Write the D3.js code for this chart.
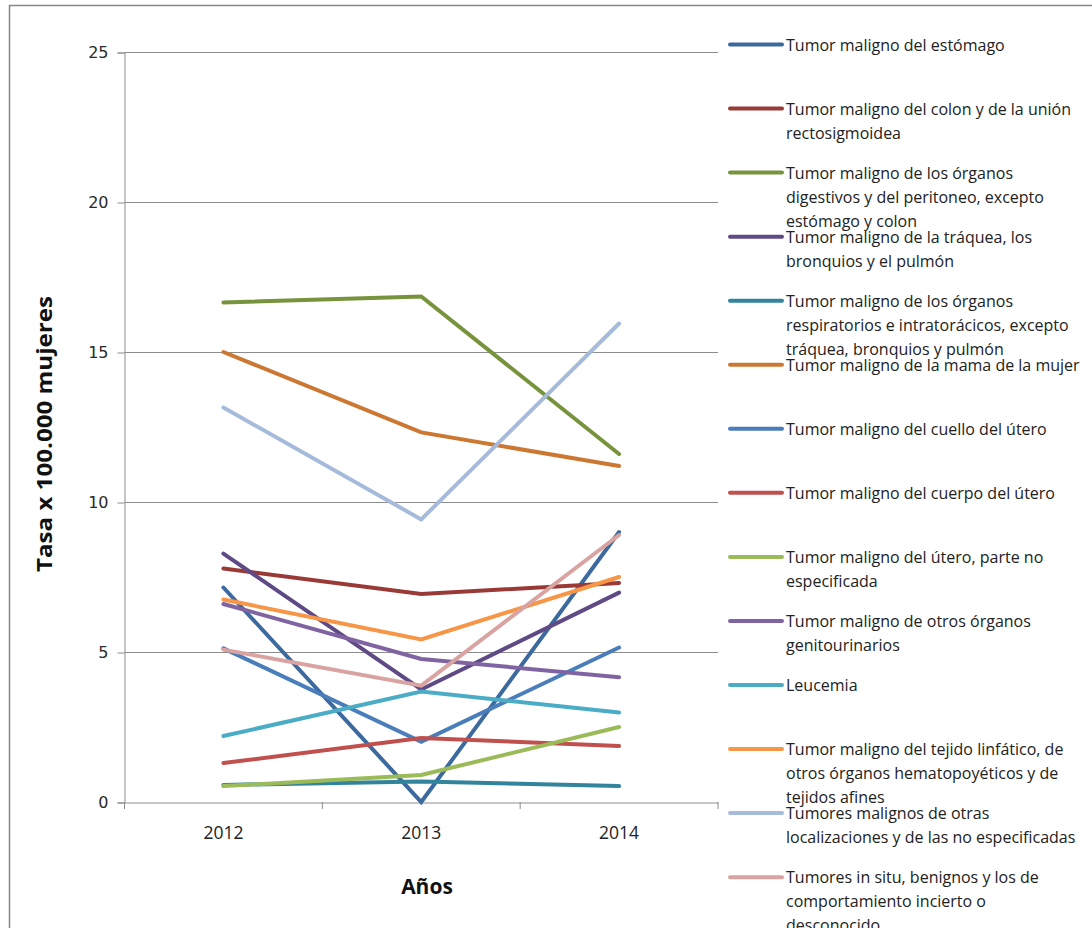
<!DOCTYPE html>
<html>
<head>
<meta charset="utf-8">
<script src="https://cdn.jsdelivr.net/npm/d3@7"></script>
<style>
  html, body { margin: 0; padding: 0; background: #fff; }
  svg { display: block; }
</style>
</head>
<body>
<svg id="chart" width="1092" height="928"></svg>
<script>
const years = ["2012", "2013", "2014"];
const yTicks = [0, 5, 10, 15, 20, 25];
const seriesNames = [
  "Tumor maligno del estómago",
  "Tumor maligno del colon y de la unión rectosigmoidea",
  "Tumor maligno de los órganos digestivos y del peritoneo, excepto estómago y colon",
  "Tumor maligno de la tráquea, los bronquios y el pulmón",
  "Tumor maligno de los órganos respiratorios e intratorácicos, excepto tráquea, bronquios y pulmón",
  "Tumor maligno de la mama de la mujer",
  "Tumor maligno del cuello del útero",
  "Tumor maligno del cuerpo del útero",
  "Tumor maligno del útero, parte no especificada",
  "Tumor maligno de otros órganos genitourinarios",
  "Leucemia",
  "Tumor maligno del tejido linfático, de otros órganos hematopoyéticos y de tejidos afines",
  "Tumores malignos de otras localizaciones y de las no especificadas",
  "Tumores in situ, benignos y los de comportamiento incierto o desconocido"
];
// legend text as wrapped in the reference
const legendLines = [
  ["Tumor maligno del estómago"],
  ["Tumor maligno del colon y de la unión", "rectosigmoidea"],
  ["Tumor maligno de los órganos", "digestivos y del peritoneo, excepto", "estómago y colon"],
  ["Tumor maligno de la tráquea, los", "bronquios y el pulmón"],
  ["Tumor maligno de los órganos", "respiratorios e intratorácicos, excepto", "tráquea, bronquios y pulmón"],
  ["Tumor maligno de la mama de la mujer"],
  ["Tumor maligno del cuello del útero"],
  ["Tumor maligno del cuerpo del útero"],
  ["Tumor maligno del útero, parte no", "especificada"],
  ["Tumor maligno de otros órganos", "genitourinarios"],
  ["Leucemia"],
  ["Tumor maligno del tejido linfático, de", "otros órganos hematopoyéticos y de", "tejidos afines"],
  ["Tumores malignos de otras", "localizaciones y de las no especificadas"],
  ["Tumores in situ, benignos y los de", "comportamiento incierto o", "desconocido"]
];
const estomago       = [7.15, 0.0, 9.0];
const colon          = [7.78, 6.93, 7.3];
const digestivos     = [16.65, 16.85, 11.6];
const traquea        = [8.28, 3.75, 6.98];
const respiratorios  = [0.57, 0.68, 0.53];
const mama           = [15.0, 12.32, 11.2];
const cuello         = [5.12, 2.01, 5.15];
const cuerpo         = [1.3, 2.13, 1.87];
const uteroNoEsp     = [0.53, 0.9, 2.5];
const genitourinarios= [6.6, 4.77, 4.16];
const leucemia       = [2.2, 3.68, 2.98];
const linfatico      = [6.75, 5.42, 7.5];
const otrasLocal     = [13.15, 9.42, 15.95];
const inSitu         = [5.08, 3.88, 8.9];

const seriesValues = [estomago, colon, digestivos, traquea, respiratorios, mama, cuello,
  cuerpo, uteroNoEsp, genitourinarios, leucemia, linfatico, otrasLocal, inSitu];
const colors = ["#3C699E", "#9A3A37", "#77933C", "#5F4A85", "#31849B", "#CC7833", "#4A7EBB",
  "#C0504D", "#9BBB59", "#8064A2", "#4BACC6", "#F79646", "#A6BBDB", "#D9A3A2"];

const series = seriesNames.map((n, i) => ({
  name: n, lines: legendLines[i], color: colors[i],
  values: seriesValues[i].map((v, j) => ({ year: years[j], value: v }))
}));

const svg = d3.select("#chart");
const pLeft = 124.5, pRight = 718, pTop = 52, pBottom = 802;

// outer frame
svg.append("rect").attr("x", 9.5).attr("y", 5.5).attr("width", 1200).attr("height", 1200)
  .attr("fill", "none").attr("stroke", "#868686").attr("stroke-width", 1.5);

const x = d3.scaleBand().domain(years).range([pLeft, pRight]).paddingInner(0).paddingOuter(0);
const y = d3.scaleLinear().domain([0, 25]).range([pBottom, pTop]);
const cx = d => x(d) + x.bandwidth() / 2;

// gridlines
svg.append("g").selectAll("line").data(yTicks.filter(t => t > 0)).join("line")
  .attr("x1", pLeft).attr("x2", pRight)
  .attr("y1", d => Math.round(y(d)) + 0.5).attr("y2", d => Math.round(y(d)) + 0.5)
  .attr("stroke", "#8c8c8c").attr("stroke-width", 1);

// y axis
const yAxis = svg.append("g").attr("transform", `translate(${pLeft},0.5)`)
  .call(d3.axisLeft(y).tickValues(yTicks).tickSize(7).tickPadding(9).tickFormat(d3.format("d")));
yAxis.select(".domain").attr("stroke", "#8c8c8c");
yAxis.selectAll(".tick line").attr("stroke", "#8c8c8c");
yAxis.selectAll("text").attr("font-family", "DejaVu Sans").attr("font-size", 16).attr("fill", "#2a2a2a");

// x axis
const xAxis = svg.append("g").attr("transform", `translate(0,${pBottom + 0.5})`)
  .call(d3.axisBottom(x).tickSize(0).tickPadding(24));
xAxis.select(".domain").attr("stroke", "#8c8c8c");
xAxis.selectAll("text").attr("font-family", "Open Sans").attr("font-size", 17.5).attr("fill", "#222");
// category boundary ticks
svg.append("g").selectAll("line").data(years.concat(["end"])).join("line")
  .attr("x1", (d, i) => i < years.length ? x(d) : pRight)
  .attr("x2", (d, i) => i < years.length ? x(d) : pRight)
  .attr("y1", pBottom).attr("y2", pBottom + 7)
  .attr("stroke", "#8c8c8c");

// axis titles
svg.append("text").attr("transform", `translate(52,434) rotate(-90)`)
  .attr("text-anchor", "middle").attr("font-family", "Open Sans").attr("font-weight", "bold")
  .attr("font-size", 21).attr("textLength", 276).attr("lengthAdjust", "spacingAndGlyphs")
  .attr("fill", "#111").text("Tasa x 100.000 mujeres");
svg.append("text").attr("x", 427).attr("y", 894).attr("text-anchor", "middle")
  .attr("font-family", "Open Sans").attr("font-weight", "bold").attr("font-size", 21)
  .attr("fill", "#111").text("Años");

// lines
const line = d3.line().x(d => cx(d.year)).y(d => y(d.value));
svg.append("g").selectAll("path").data(series).join("path")
  .attr("d", d => line(d.values))
  .attr("fill", "none").attr("stroke", d => d.color).attr("stroke-width", 4)
  .attr("stroke-linecap", "round").attr("stroke-linejoin", "miter");

// legend
const lg = svg.append("g").selectAll("g").data(series).join("g")
  .attr("transform", (d, i) => `translate(0,${44.5 + i * 64.05})`);
lg.append("line").attr("x1", 730).attr("x2", 782).attr("y1", 0).attr("y2", 0)
  .attr("stroke", d => d.color).attr("stroke-width", 4).attr("stroke-linecap", "round");
lg.append("text").attr("font-family", "Open Sans").attr("font-size", 16).attr("fill", "#222")
  .selectAll("tspan").data(d => d.lines).join("tspan")
  .attr("x", 786).attr("y", (d, i) => 6 + i * 24).text(d => d);
</script>
</body>
</html>
